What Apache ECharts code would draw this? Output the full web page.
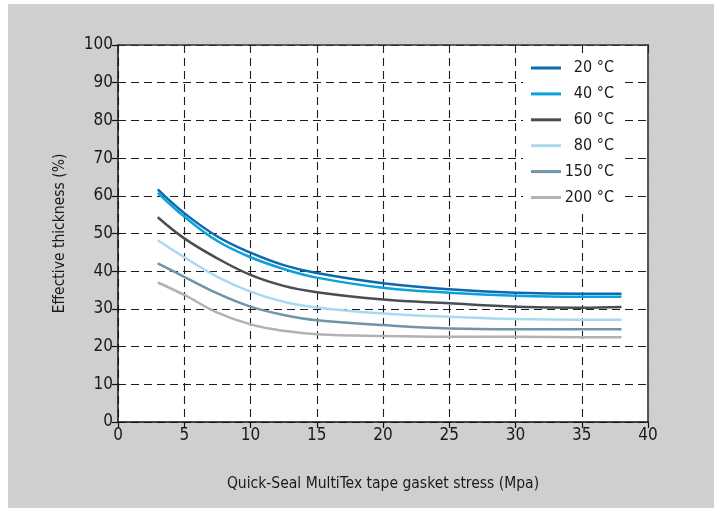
<!DOCTYPE html>
<html>
<head>
<meta charset="utf-8">
<script src="https://cdn.jsdelivr.net/npm/echarts@6/dist/echarts.min.js"></script>
<style>
html,body{margin:0;padding:0;background:#fff;}
#bg{position:absolute;left:8px;top:4px;width:706px;height:504px;background:#cfcfcf;}
#chart{position:absolute;left:0;top:0;width:718px;height:508px;}
</style>
</head>
<body>
<div id="bg"></div>
<div id="chart"></div>
<script>
var stress = [3, 5, 7.5, 10, 12.5, 15, 20, 25, 30, 35, 38];
var seriesNames = ['20 °C', '40 °C', '60 °C', '80 °C', '150 °C', '200 °C'];
var t20  = [61.7, 55.4, 49.2, 44.9, 41.6, 39.5, 36.8, 35.2, 34.3, 34.0, 34.0];
var t40  = [60.8, 54.5, 48.0, 43.7, 40.6, 38.3, 35.6, 34.3, 33.5, 33.2, 33.2];
var t60  = [54.3, 48.7, 43.4, 39.0, 36.1, 34.4, 32.5, 31.5, 30.6, 30.3, 30.5];
var t80  = [48.2, 43.7, 38.5, 34.6, 31.9, 30.4, 28.8, 27.9, 27.3, 27.1, 27.1];
var t150 = [42.1, 38.5, 34.1, 30.6, 28.4, 27.0, 25.7, 24.8, 24.6, 24.6, 24.6];
var t200 = [37.0, 33.7, 29.0, 25.9, 24.2, 23.3, 22.8, 22.6, 22.6, 22.5, 22.5];
var values = [t20, t40, t60, t80, t150, t200];
var colors = ['#0b69ad', '#0aa2d8', '#4a4e54', '#a9d9f1', '#7095aa', '#b2b2b2'];

var FONT = '"DejaVu Sans", sans-serif';
var FW = 'condensed';
var TXT = '#1a1a1a';
var chart = echarts.init(document.getElementById('chart'));
var series = seriesNames.map(function (n, i) {
  return {
    name: n,
    type: 'line',
    smooth: 0.4,
    showSymbol: false,
    symbol: 'none',
    lineStyle: { color: colors[i], width: 2.5 },
    itemStyle: { color: colors[i] },
    data: stress.map(function (x, j) { return [x, values[i][j]]; })
  };
});
var gridLine = { show: true, lineStyle: { color: '#1e1e1e', type: [8, 5], width: 1.1 } };
var lbl = { fontFamily: FONT, fontWeight: FW, fontSize: 17, color: TXT };
var nameLbl = { fontFamily: FONT, fontWeight: FW, fontSize: 15.5, color: TXT };
chart.setOption({
  animation: false,
  textStyle: { fontFamily: FONT },
  grid: { left: 118, right: 70, top: 45, bottom: 86, show: true, backgroundColor: '#fff', borderWidth: 0 },
  legend: {
    data: seriesNames,
    orient: 'vertical',
    right: 96,
    top: 56,
    itemWidth: 30,
    itemHeight: 3,
    itemGap: 9.9,
    icon: 'rect',
    backgroundColor: '#fff',
    padding: [4, 8, 4, 8],
    formatter: function (n) { return '{a|' + n + '}'; },
    textStyle: {
      fontFamily: FONT, fontWeight: FW, fontSize: 16, color: TXT,
      rich: { a: { width: 48, align: 'right', fontSize: 16, fontFamily: FONT, fontWeight: FW, color: TXT, height: 17 } }
    }
  },
  xAxis: [{
    type: 'value', min: 0, max: 40, interval: 5,
    name: 'Quick-Seal MultiTex tape gasket stress (Mpa)',
    nameLocation: 'middle', nameGap: 54,
    nameTextStyle: nameLbl,
    axisLine: { show: true, onZero: false, lineStyle: { color: '#111', width: 1.5 } },
    axisTick: { show: true, length: 6, lineStyle: { color: '#111', width: 1.2 } },
    axisLabel: Object.assign({ margin: 5 }, lbl),
    splitLine: gridLine
  }, {
    type: 'value', min: 0, max: 40, interval: 5, position: 'top',
    axisLine: { show: true, onZero: false, lineStyle: { color: '#333', width: 1.5 } },
    axisTick: { show: true, inside: true, length: 8, lineStyle: { color: '#222', width: 1 } },
    axisLabel: { show: false },
    splitLine: { show: false }
  }],
  yAxis: [{
    type: 'value', min: 0, max: 100, interval: 10,
    name: 'Effective thickness (%)',
    nameLocation: 'middle', nameGap: 50,
    nameTextStyle: nameLbl,
    axisLine: { show: true, onZero: false, lineStyle: { color: '#111', width: 1.5 } },
    axisTick: { show: true, length: 6, lineStyle: { color: '#111', width: 1.2 } },
    axisLabel: Object.assign({ margin: 5 }, lbl),
    splitLine: gridLine
  }, {
    type: 'value', min: 0, max: 100, interval: 10, position: 'right',
    axisLine: { show: true, onZero: false, lineStyle: { color: '#555', width: 2 } },
    axisTick: { show: false },
    axisLabel: { show: false },
    splitLine: { show: false }
  }],
  series: series
});
</script>
</body>
</html>
